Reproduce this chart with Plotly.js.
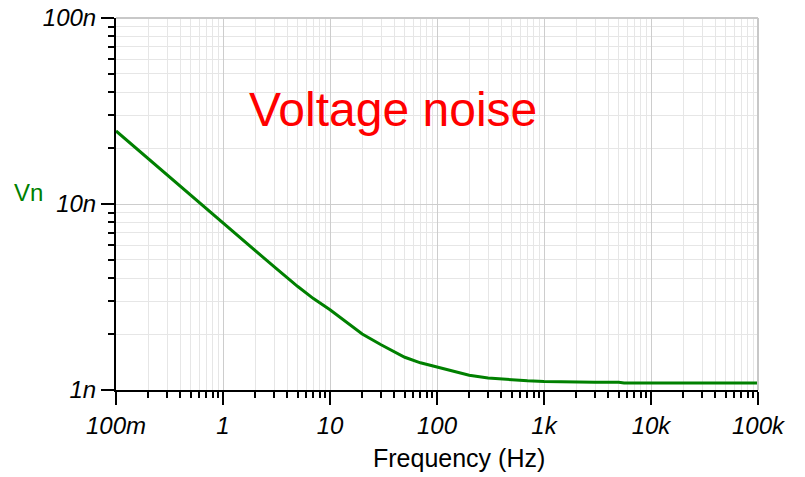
<!DOCTYPE html>
<html>
<head>
<meta charset="utf-8">
<script src="https://cdn.plot.ly/plotly-3.0.1.min.js"></script>
<style>html,body{margin:0;padding:0;background:#fff;}#chart{width:805px;height:477px;}</style>
</head>
<body>
<div id="chart"></div>
<script>
// Frequency (Hz) and noise voltage (nV/rtHz)
const freq = [0.1, 0.15, 0.2, 0.3, 0.5, 0.7, 1, 1.5, 2, 3, 5, 7, 10, 15, 20, 30, 50, 70, 100, 150, 200, 300, 500, 700, 1000, 2000, 3000, 5000, 5600, 10000, 30000, 100000];
const vn = [24.7, 20.2, 17.5, 14.3, 11.1, 9.4, 7.9, 6.5, 5.6, 4.6, 3.6, 3.1, 2.7, 2.25, 2.0, 1.75, 1.5, 1.4, 1.33, 1.25, 1.2, 1.16, 1.13, 1.12, 1.11, 1.1, 1.1, 1.1, 1.09, 1.09, 1.09, 1.09];
const xTickVals = [0.1, 1, 10, 100, 1000, 10000, 100000];
const xTickText = ['100m', '1', '10', '100', '1k', '10k', '100k'];
const yTickVals = [1, 10, 100];
const yTickText = ['1n', '10n', '100n'];

function minorVals(lo, hi) {
  const out = [];
  for (let d = lo; d < hi; d++) {
    for (let m = 2; m <= 9; m++) out.push(m * Math.pow(10, d));
  }
  return out;
}

const tickFont = {family: 'Liberation Sans, Arial, sans-serif', size: 24, color: '#000', style: 'italic'};

const data = [{
  x: freq, y: vn, type: 'scatter', mode: 'lines',
  line: {color: '#008000', width: 3},
  hoverinfo: 'skip'
}];

const layout = {
  width: 805, height: 477,
  margin: {l: 116, r: 47, t: 18, b: 87},
  paper_bgcolor: '#fff', plot_bgcolor: '#fff',
  showlegend: false,
  xaxis: {
    type: 'log', range: [-1, 5],
    tickmode: 'array', tickvals: xTickVals, ticktext: xTickText,
    ticks: 'outside', ticklen: 13, tickwidth: 2, tickcolor: '#000',
    showline: true, linecolor: '#000', linewidth: 2,
    showgrid: true, gridcolor: '#cdcdcd', gridwidth: 1,
    zeroline: false,
    tickfont: tickFont,
    minor: {tickmode: 'array', tickvals: minorVals(-1, 5), ticks: 'outside', ticklen: 6, tickwidth: 2, tickcolor: '#000', showgrid: true, gridcolor: '#e6e6e6', gridwidth: 1}
  },
  yaxis: {
    type: 'log', range: [0, 2],
    tickmode: 'array', tickvals: yTickVals, ticktext: yTickText,
    ticks: 'outside', ticklen: 13, tickwidth: 2, tickcolor: '#000',
    showline: true, linecolor: '#000', linewidth: 2,
    showgrid: true, gridcolor: '#cdcdcd', gridwidth: 1,
    zeroline: false,
    tickfont: tickFont,
    minor: {tickmode: 'array', tickvals: minorVals(0, 2), ticks: 'outside', ticklen: 6, tickwidth: 2, tickcolor: '#000', showgrid: true, gridcolor: '#e6e6e6', gridwidth: 1}
  },
  shapes: [
    {type: 'line', xref: 'paper', yref: 'paper', x0: 0, x1: 1, y0: 1, y1: 1, line: {color: '#c8c8c8', width: 2}},
    {type: 'line', xref: 'paper', yref: 'paper', x0: 1, x1: 1, y0: 0, y1: 1, line: {color: '#c8c8c8', width: 2}}
  ],
  annotations: [
    {text: 'Voltage noise', xref: 'paper', yref: 'paper', x: 0.431, y: 0.755, xanchor: 'center', yanchor: 'middle', showarrow: false,
     font: {family: 'Liberation Sans, Arial, sans-serif', size: 48, color: '#ff0000'}},
    {text: 'Vn', xref: 'paper', yref: 'paper', x: -0.137, y: 0.53, xanchor: 'center', yanchor: 'middle', showarrow: false,
     font: {family: 'Liberation Sans, Arial, sans-serif', size: 24, color: '#008000'}},
    {text: 'Frequency (Hz)', xref: 'paper', yref: 'paper', x: 0.535, y: -0.182, xanchor: 'center', yanchor: 'middle', showarrow: false,
     font: {family: 'Liberation Sans, Arial, sans-serif', size: 25, color: '#000'}}
  ]
};

Plotly.newPlot('chart', data, layout, {displayModeBar: false, staticPlot: true});
</script>
</body>
</html>
